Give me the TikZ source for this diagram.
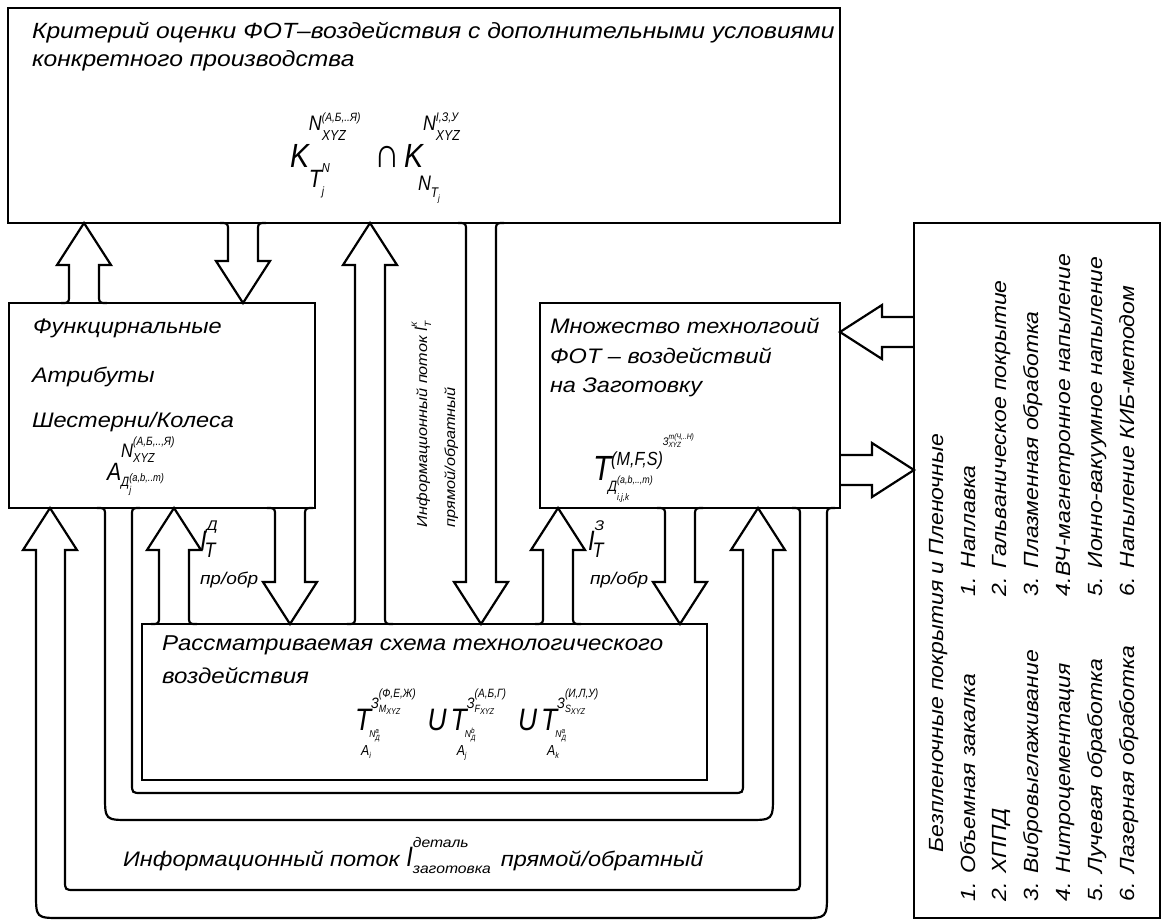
\documentclass[tikz,border=0pt]{standalone}
\usepackage{fontspec}
\setmainfont{Liberation Sans}[FakeStretch=1.12]
\newfontfamily\ffam{Liberation Sans}[FakeStretch=0.85]
\newcommand\fz[2]{{\fontsize{#1}{#1}\selectfont #2}}
\newcommand\nz[2]{{\ffam\itshape\fontsize{#1}{#1}\selectfont #2}}
\newcommand\Scr[4]{\begingroup\setbox0\hbox{#1}\setbox2\hbox{#2}%
\ifdim\wd0>\wd2 \rlap{\raisebox{-#4}{\box2}}\raisebox{#3}{\box0}\else\rlap{\raisebox{#3}{\box0}}\raisebox{-#4}{\box2}\fi\endgroup}
\newcommand\Tblk[4]{\nz{31}{T}\Scr{\nz{15}{З}\Scr{\nz{12}{#2}}{\nz{10.5}{#1}\Scr{}{\nz{8.5}{XYZ}}{0pt}{2pt}}{11pt}{4pt}}{\hspace{-10pt}\nz{14.5}{A}\Scr{\nz{10}{N}\Scr{\nz{7.5}{#3}}{\nz{7.5}{Д}}{4pt}{3pt}}{\nz{8.5}{#4}}{18pt}{3pt}}{22pt}{25pt}}
\def\Sw{15}\def\Hw{27}\def\Hl{42}\def\Fr{8}
\newcommand\uparr[3]{\draw[blk] ({#1-\Sw-\Fr},#2) .. controls ({#1-\Sw},#2) .. ({#1-\Sw},{#2-\Fr}) -- ({#1-\Sw},{#3+\Hl}) -- ({#1-\Hw},{#3+\Hl}) -- (#1,#3) -- ({#1+\Hw},{#3+\Hl}) -- ({#1+\Sw},{#3+\Hl}) -- ({#1+\Sw},{#2-\Fr}) .. controls ({#1+\Sw},#2) .. ({#1+\Sw+\Fr},#2);}
\newcommand\dnarr[3]{\draw[blk] ({#1-\Sw-\Fr},#2) .. controls ({#1-\Sw},#2) .. ({#1-\Sw},{#2+\Fr}) -- ({#1-\Sw},{#3-\Hl}) -- ({#1-\Hw},{#3-\Hl}) -- (#1,#3) -- ({#1+\Hw},{#3-\Hl}) -- ({#1+\Sw},{#3-\Hl}) -- ({#1+\Sw},{#2+\Fr}) .. controls ({#1+\Sw},#2) .. ({#1+\Sw+\Fr},#2);}
\begin{document}
\begin{tikzpicture}[x=1pt,y=-1pt,font=\itshape,
  box/.style={draw,line width=2.2pt,anchor=north west,inner sep=0pt,outer sep=0pt},
  txt/.style={anchor=base west,inner sep=0pt,outer sep=0pt},
  tsz/.style={font={\itshape\fontsize{#1}{#1}\selectfont}},
  blk/.style={draw,line width=2.2pt,line join=miter}]
\fill[white] (0,0) rectangle (1166,921);
\useasboundingbox (0,0) rectangle (1166,921);
% boxes
\node[box,minimum width=832pt,minimum height=215pt] (top) at (8,8) {};
\node[box,minimum width=306pt,minimum height=205pt] (attr) at (9,303) {};
\node[box,minimum width=300pt,minimum height=205pt] (tech) at (540,303) {};
\node[box,minimum width=565pt,minimum height=156pt] (scheme) at (142,624) {};
\node[box,minimum width=246pt,minimum height=695pt] (list) at (914,223) {};
% vertical block arrows
\uparr{84}{303}{223}
\dnarr{243}{223}{303}
\uparr{370}{624}{223}
\dnarr{481}{223}{624}
\uparr{174}{624}{508}
\dnarr{290}{508}{624}
\uparr{558}{624}{508}
\dnarr{680}{508}{624}
% horizontal block arrows
\draw[blk] (914,317) -- (882,317) -- (882,305) -- (840,332) -- (882,359) -- (882,347) -- (914,347);
\draw[blk] (840,455) -- (872,455) -- (872,443) -- (914,470) -- (872,497) -- (872,485) -- (840,485);
% loop A (tech -> attr)
\draw[blk] (792,508) .. controls (800,508) .. (800,516) -- (800,880) .. controls (800,890) .. (790,890) -- (75,890) .. controls (65,890) .. (65,880) -- (65,550) -- (77,550) -- (50,508) -- (23,550) -- (36,550) -- (36,893) .. controls (36,918) .. (61,918) -- (802,918) .. controls (827,918) .. (827,893) -- (827,516) .. controls (827,508) .. (835,508);
% loop B (attr -> tech)
\draw[blk] (140,508) .. controls (132,508) .. (132,516) -- (132,783) .. controls (132,793) .. (142,793) -- (733,793) .. controls (743,793) .. (743,783) -- (743,550) -- (731,550) -- (758,508) -- (785,550) -- (773,550) -- (773,795) .. controls (773,820) .. (748,820) -- (130,820) .. controls (105,820) .. (105,795) -- (105,516) .. controls (105,508) .. (97,508);
% top box text
\node[txt,tsz=22] (t1) at (32,38) {Критерий оценки ФОТ–воздействия с дополнительными условиями};
\node[txt,tsz=22] (t2) at (32,66) {конкретного производства};
\node[txt] (kform) at (290,167) {\nz{33.5}{K}\Scr{\nz{21}{N}\Scr{\nz{12}{(А,Б,..Я)}}{\nz{14.5}{XYZ}}{9pt}{10pt}}{\nz{25}{T}\Scr{\nz{13}{N}}{\nz{12}{j}}{15pt}{8pt}}{37pt}{20pt}\hspace{14pt}\nz{42}{∩}\hspace{4pt}\nz{33.5}{K}\Scr{\nz{21}{N}\Scr{\nz{12.5}{I,З,У}}{\nz{14.5}{XYZ}}{9pt}{10pt}}{\hspace{-5pt}\nz{21}{N}\Scr{}{\nz{14}{T}\Scr{}{\nz{9}{j}}{0pt}{4pt}}{0pt}{7pt}}{37pt}{23pt}};
% left box text
\node[txt,tsz=21] (a1) at (33,333) {Функцирнальные};
\node[txt,tsz=21] (a2) at (32,382) {Атрибуты};
\node[txt,tsz=21] (a3) at (32,427) {Шестерни/Колеса};
\node[txt] (aform) at (107,480) {\nz{25}{A}\Scr{\nz{19.5}{N}\Scr{\nz{12}{(А,Б,..,Я)}}{\nz{13}{XYZ}}{12pt}{5pt}}{\nz{13.5}{Д}\Scr{\nz{11}{(a,b,..m)}}{\nz{10}{j}}{5pt}{7pt}}{23pt}{6pt}};
% right box text
\node[txt,tsz=21] (m1) at (550,333) {Множество технолгоий};
\node[txt,tsz=21] (m2) at (550,363) {ФОТ – воздействий};
\node[txt,tsz=21] (m3) at (550,392) {на Заготовку};
\node[txt] (mform) at (593,480) {\nz{35}{T}\Scr{\nz{19}{(M,F,S)}\Scr{\nz{11}{З}\Scr{\nz{8}{m(Ч,..Н)}}{\nz{7.5}{XYZ}}{6pt}{2pt}}{}{20pt}{0pt}}{\hspace{-3pt}\nz{15}{Д}\Scr{\nz{10.5}{(a,b,..,m)}}{\nz{9.5}{i,j,k}}{8pt}{9pt}}{15pt}{11pt}};
% bottom box text
\node[txt,tsz=21.5] (s1) at (162,650) {Рассматриваемая схема технологического};
\node[txt,tsz=21.5] (s2) at (162,683) {воздействия};
\node[txt] (sform) at (355,730) {\Tblk{M}{(Ф,Е,Ж)}{a}{i}\hspace{12pt}\nz{31}{U}\hspace{4pt}\Tblk{F}{(А,Б,Г)}{b}{j}\hspace{12pt}\nz{31}{U}\hspace{4pt}\Tblk{S}{(И,Л,У)}{a}{k}};
% arrow labels
\node[txt] (id) at (200,550) {\nz{28}{I}\Scr{\fz{14}{Д}}{\hspace{-2pt}\nz{21}{T}}{20pt}{7pt}};
\node[txt,tsz=17] (id2) at (200,584) {пр/обр};
\node[txt] (iz) at (588,550) {\nz{28}{I}\Scr{\fz{14}{З}}{\hspace{-2pt}\nz{21}{T}}{20pt}{7pt}};
\node[txt,tsz=17] (iz2) at (590,584) {пр/обр};
\node[txt,tsz=14.5,rotate=90] (k1) at (427,527) {Информационный поток \nz{18}{I}\Scr{\fz{8}{К}}{\fz{9}{T}}{10pt}{4pt}};
\node[txt,tsz=14.5,rotate=90] (k2) at (455,527) {прямой/обратный};
\node[txt,tsz=21] (flow) at (123,866) {Информационный поток \nz{28}{I}\Scr{\fz{14}{деталь}}{\fz{14}{заготовка}}{19pt}{7pt}\hspace{10pt}прямой/обратный};
% list box
\begin{scope}[every node/.style={txt,tsz=20.5,rotate=90}]
\node (l0) at (943,852) {Безпленочные покрытия и Пленочные};
\node (l1) at (975,901) {1. Объемная закалка};
\node (l2) at (1006,901) {2. ХППД};
\node (l3) at (1038,901) {3. Вибровыглаживание};
\node (l4) at (1070,901) {4. Нитроцементация};
\node (l5) at (1102,901) {5. Лучевая обработка};
\node (l6) at (1134,901) {6. Лазерная обработка};
\node (r1) at (975,596) {1. Наплавка};
\node (r2) at (1006,596) {2. Гальваническое покрытие};
\node (r3) at (1038,596) {3. Плазменная обработка};
\node (r4) at (1070,596) {4.ВЧ-магнетронное напыление};
\node (r5) at (1102,596) {5. Ионно-вакуумное напыление};
\node (r6) at (1134,596) {6. Напыление КИБ-методом};
\end{scope}
\end{tikzpicture}
\end{document}
